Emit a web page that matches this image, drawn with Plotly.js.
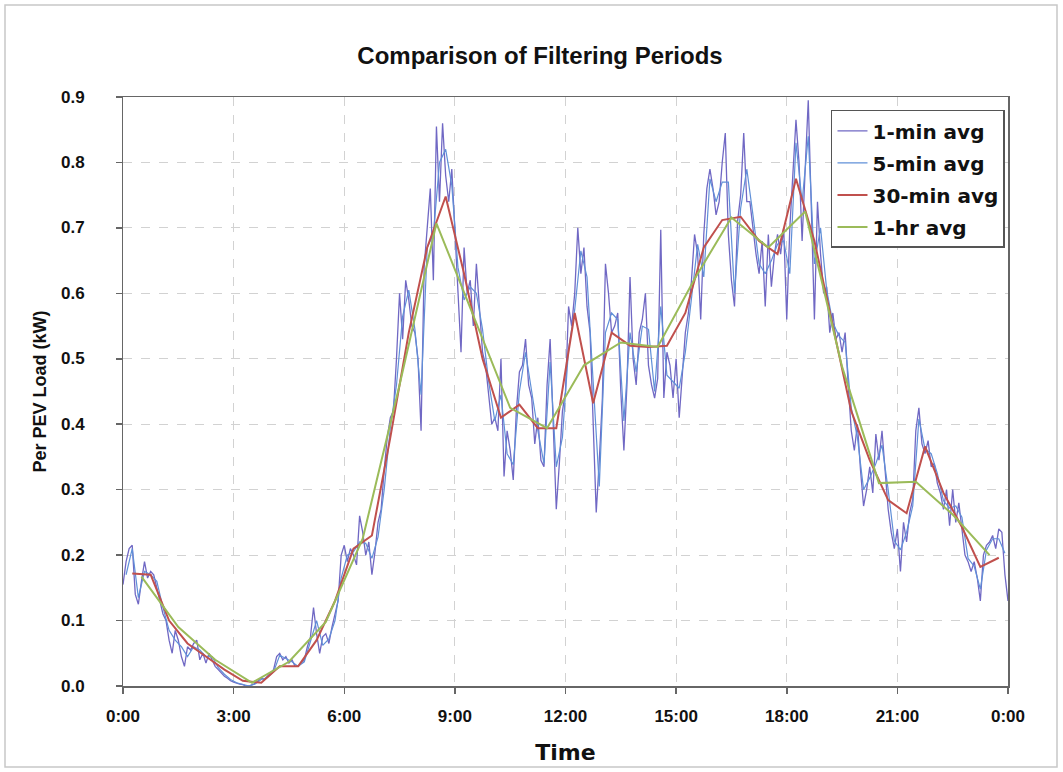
<!DOCTYPE html>
<html>
<head>
<meta charset="utf-8">
<script src="https://cdn.plot.ly/plotly-3.0.1.min.js"></script>
<style>html,body{margin:0;padding:0;background:#fff;}#chart{width:1063px;height:772px;}</style>
</head>
<body>
<div id="chart"></div>
<script>
// ---- data (kW per PEV) ----
const seriesNames = ["1-min avg", "5-min avg", "30-min avg", "1-hr avg"];
const tickVals = [0, 3, 6, 9, 12, 15, 18, 21, 24];
const tickText = ["0:00", "3:00", "6:00", "9:00", "12:00", "15:00", "18:00", "21:00", "0:00"];
const yTickVals = [0, 0.1, 0.2, 0.3, 0.4, 0.5, 0.6, 0.7, 0.8, 0.9];

// 1-min avg, sampled every 5 minutes from 0:00 to 24:00
const oneMin = [
  0.155,0.19,0.21,0.215,0.14,0.125,0.16,0.19,0.165,0.175,0.17,0.15,
  0.13,0.11,0.10,0.07,0.05,0.085,0.07,0.045,0.03,0.06,0.055,0.065,
  0.07,0.04,0.05,0.035,0.05,0.04,0.03,0.025,0.02,0.015,0.012,0.008,
  0.006,0.004,0.003,0.002,0.0,0.0,0.002,0.004,0.008,0.012,0.01,0.015,
  0.02,0.025,0.045,0.05,0.04,0.045,0.035,0.04,0.03,0.03,0.035,0.04,
  0.06,0.075,0.12,0.08,0.05,0.075,0.08,0.065,0.09,0.11,0.13,0.2,
  0.215,0.19,0.21,0.2,0.185,0.26,0.235,0.2,0.22,0.17,0.205,0.25,
  0.27,0.33,0.38,0.41,0.42,0.50,0.60,0.53,0.62,0.59,0.55,0.54,
  0.50,0.39,0.64,0.70,0.76,0.62,0.855,0.74,0.86,0.78,0.74,0.79,
  0.69,0.59,0.51,0.67,0.60,0.62,0.55,0.645,0.58,0.51,0.49,0.44,
  0.40,0.41,0.39,0.50,0.32,0.39,0.36,0.315,0.42,0.48,0.49,0.53,
  0.46,0.44,0.37,0.41,0.345,0.335,0.46,0.53,0.40,0.27,0.34,0.42,
  0.45,0.58,0.55,0.60,0.70,0.63,0.67,0.58,0.54,0.39,0.265,0.345,
  0.44,0.645,0.60,0.54,0.55,0.57,0.45,0.36,0.46,0.625,0.50,0.46,
  0.54,0.56,0.60,0.49,0.46,0.44,0.47,0.697,0.44,0.51,0.49,0.44,
  0.50,0.41,0.48,0.54,0.57,0.62,0.69,0.66,0.56,0.69,0.76,0.79,
  0.76,0.72,0.74,0.80,0.845,0.69,0.62,0.58,0.71,0.75,0.845,0.74,
  0.74,0.70,0.66,0.63,0.68,0.58,0.69,0.61,0.66,0.69,0.66,0.70,
  0.56,0.70,0.79,0.865,0.80,0.68,0.79,0.895,0.73,0.56,0.74,0.66,
  0.60,0.61,0.54,0.57,0.53,0.54,0.51,0.54,0.46,0.39,0.36,0.40,
  0.33,0.275,0.30,0.335,0.295,0.385,0.345,0.39,0.33,0.27,0.235,0.21,
  0.24,0.175,0.25,0.22,0.265,0.285,0.39,0.425,0.37,0.355,0.375,0.335,
  0.34,0.31,0.295,0.27,0.30,0.245,0.30,0.25,0.28,0.235,0.20,0.19,
  0.175,0.19,0.165,0.13,0.20,0.215,0.22,0.23,0.21,0.24,0.235,0.17,
  0.13
];

// 5-min avg, sampled every 10 minutes (centred at :05, :15, ...)
const fiveMin = [
  0.17,0.21,0.135,0.175,0.17,0.16,
  0.12,0.085,0.07,0.06,0.045,0.06,
  0.055,0.045,0.045,0.028,0.018,0.01,
  0.005,0.003,0.0,0.003,0.01,0.013,
  0.022,0.047,0.042,0.037,0.03,0.037,
  0.068,0.10,0.062,0.072,0.10,0.165,
  0.2,0.205,0.22,0.218,0.195,0.228,
  0.30,0.395,0.46,0.565,0.605,0.545,
  0.445,0.67,0.69,0.80,0.82,0.765,
  0.64,0.59,0.61,0.60,0.545,0.465,
  0.405,0.445,0.355,0.338,0.45,0.51,
  0.45,0.39,0.34,0.495,0.335,0.38,
  0.515,0.575,0.665,0.625,0.465,0.305,
  0.54,0.57,0.56,0.405,0.54,0.48,
  0.55,0.545,0.45,0.58,0.475,0.465,
  0.455,0.51,0.595,0.675,0.625,0.775,
  0.74,0.77,0.77,0.60,0.73,0.79,
  0.72,0.645,0.63,0.65,0.675,0.68,
  0.63,0.83,0.74,0.84,0.645,0.70,
  0.605,0.555,0.535,0.525,0.425,0.38,
  0.30,0.318,0.34,0.368,0.30,0.222,
  0.208,0.235,0.275,0.408,0.362,0.355,
  0.325,0.283,0.272,0.275,0.258,0.195,
  0.183,0.148,0.208,0.225,0.225,0.203
];

// 30-min avg, plotted at interval centres (0:15, 0:45, ...)
const thirtyMin = [
  0.172,0.17,0.10,0.065,0.045,0.025,0.008,0.005,0.03,0.03,0.07,0.13,
  0.21,0.23,0.38,0.54,0.67,0.748,0.63,0.50,0.41,0.43,0.394,0.394,
  0.57,0.432,0.54,0.52,0.518,0.52,0.57,0.67,0.712,0.717,0.68,0.66,
  0.775,0.68,0.55,0.42,0.345,0.284,0.264,0.366,0.295,0.243,0.182,0.196
];

// 1-hr avg, plotted at interval centres (0:30, 1:30, ...)
const oneHr = [
  0.167,0.09,0.04,0.005,0.037,0.098,0.225,0.46,0.707,0.565,0.425,0.394,
  0.49,0.525,0.518,0.622,0.716,0.67,0.725,0.488,0.31,0.312,0.262,0.2
];

// time axes (hours)
const xOneMin = oneMin.map((_, i) => i * 5 / 60);
const xFiveMin = fiveMin.map((_, i) => (i * 10 + 5) / 60);
const xThirty = thirtyMin.map((_, i) => (i * 30 + 15) / 60);
const xHour = oneHr.map((_, i) => i + 0.5);

const traces = [
  {x: xOneMin, y: oneMin, name: seriesNames[0], mode: "lines", legendgroup: "a",
   line: {color: "#7068c4", width: 1.3}},
  {x: xFiveMin, y: fiveMin, name: seriesNames[1], mode: "lines", legendgroup: "b",
   line: {color: "#6090d8", width: 1.2}},
  {x: xThirty, y: thirtyMin, name: seriesNames[2], mode: "lines", legendgroup: "c",
   line: {color: "#c0504d", width: 2}},
  {x: xHour, y: oneHr, name: seriesNames[3], mode: "lines", legendgroup: "d",
   line: {color: "#9bbb59", width: 2}}
];

const fam = "Liberation Sans, Arial, sans-serif";
const wide = "DejaVu Sans, Verdana, sans-serif";

// y tick labels placed through the y scale, offset left of the axis (in px)
const yLabelAnnotations = yTickVals.map(v => ({
  xref: "paper", yref: "y", x: 0, xshift: -36, y: v, xanchor: "right", yanchor: "middle",
  text: v.toFixed(1), showarrow: false,
  font: {family: fam, size: 17, color: "#111", weight: "bold"}
}));

const layout = {
  width: 1063, height: 772,
  margin: {l: 123, r: 55, t: 97, b: 86},
  paper_bgcolor: "#ffffff",
  plot_bgcolor: "#ffffff",
  showlegend: true,
  title: {
    text: "Comparison of Filtering Periods",
    font: {family: fam, size: 24, color: "#111", weight: "bold"},
    xref: "container", x: 0.508, xanchor: "center",
    yref: "container", y: 0.928, yanchor: "middle"
  },
  xaxis: {
    range: [0, 24],
    tickvals: tickVals, ticktext: tickText,
    tickfont: {family: fam, size: 17, color: "#111", weight: "bold"},
    ticks: "outside", ticklen: 6, tickcolor: "#666", tickwidth: 1.5,
    ticklabelstandoff: 8,
    showline: true, linecolor: "#666", linewidth: 1.5, mirror: true,
    showgrid: true, gridcolor: "#d2d2d2", griddash: "dash", gridwidth: 1,
    zeroline: false,
    title: {text: "Time", font: {family: wide, size: 22, color: "#111", weight: "bold"}, standoff: 19}
  },
  yaxis: {
    range: [0, 0.9], tickvals: yTickVals, showticklabels: false,
    ticks: "outside", ticklen: 6, tickcolor: "#666", tickwidth: 1.5,
    showline: true, linecolor: "#666", linewidth: 1.5, mirror: true,
    showgrid: true, gridcolor: "#d2d2d2", griddash: "dash", gridwidth: 1,
    zeroline: false,
    title: {text: "Per PEV Load (kW)", font: {family: fam, size: 18, color: "#111", weight: "bold"}, standoff: 64}
  },
  annotations: yLabelAnnotations,
  legend: {
    x: 0.9966, xanchor: "right", y: 0.978, yanchor: "top",
    bgcolor: "#ffffff", bordercolor: "#555", borderwidth: 1.5,
    font: {family: wide, size: 20, color: "#111", weight: "bold"},
    traceorder: "grouped", tracegroupgap: 3,
    itemwidth: 30
  },
  shapes: [{
    type: "rect", xref: "paper", yref: "paper",
    x0: (5 - 123) / 885, x1: (1057 - 123) / 885,
    y0: (686 - 767) / 589, y1: (686 - 5) / 589,
    line: {color: "#c8c8c8", width: 1.5}, fillcolor: "rgba(0,0,0,0)", layer: "below"
  }]
};

Plotly.newPlot("chart", traces, layout, {staticPlot: true, displayModeBar: false});
</script>
</body>
</html>
